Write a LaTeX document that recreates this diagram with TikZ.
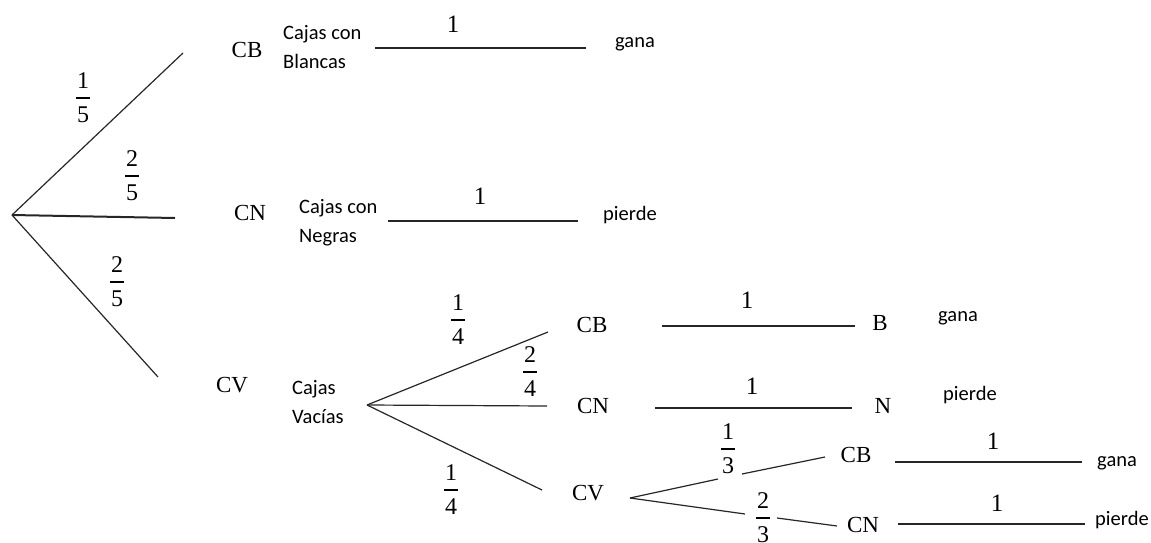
\documentclass[tikz,border=0pt]{standalone}
\usepackage{fontspec}
\setmainfont{Liberation Serif}
\newfontfamily\calfont{Carlito}
\usetikzlibrary{calc}
\newcommand\frc[4]{%
  \node[dig] (#1n) at ($(#2)+(0,-17)$) {#3};
  \node[dig] (#1d) at ($(#2)+(0,17)$) {#4};
  \draw[line width=1.2pt] ($(#2)+(-7,0)$) -- ($(#2)+(7,0)$);}
\begin{document}
\begin{tikzpicture}[x=1pt,y=-1pt,
  lab/.style={font=\fontsize{23}{25}\selectfont, inner sep=0pt},
  txt/.style={font=\calfont\fontsize{20.5}{29}\selectfont, inner sep=0pt, anchor=west, align=left},
  one/.style={font=\fontsize{25}{27}\selectfont, inner sep=0pt},
  dig/.style={font=\fontsize{24}{26}\selectfont, inner sep=0pt},
  br/.style={line width=1.2pt, draw=black!85},
]
\useasboundingbox (0,0) rectangle (1151,543);
% ---- level 1
\coordinate (root) at (12,215);
\coordinate (e1) at (183,53);
\coordinate (e2) at (175,218);
\coordinate (e3) at (158,377);
\draw[br] (root) -- (e1);
\draw[br, line width=2pt] (root) -- (e2);
\draw[br] (root) -- (e3);
\frc{f15}{83,98}{1}{5}
\frc{f25a}{132,176}{2}{5}
\frc{f25b}{117,282}{2}{5}
% ---- CB
\node[lab] (cb1) at (247,50) {CB};
\node[txt] (cb1t) at (283,47) {Cajas con\\Blancas};
\coordinate (l1a) at (375,48); \coordinate (l1b) at (586,48);
\draw[br] (l1a) -- (l1b);
\node[one] (o1) at (453,24) {1};
\node[txt] (g1) at (615,44) {gana};
% ---- CN
\node[lab] (cn1) at (250,213) {CN};
\node[txt] (cn1t) at (299,223) {Cajas con\\Negras};
\coordinate (l2a) at (388,221); \coordinate (l2b) at (578,221);
\draw[br] (l2a) -- (l2b);
\node[one] (o2) at (480,196) {1};
\node[txt] (p1) at (603,215) {pierde};
% ---- CV
\node[lab] (cv1) at (232,385) {CV};
\node[txt] (cv1t) at (292,402) {Cajas\\Vacías};
\coordinate (fork2) at (367,405);
\coordinate (m1) at (548,332);
\coordinate (m2) at (547,406);
\coordinate (m3) at (542,490);
\draw[br] (fork2) -- (m1);
\draw[br] (fork2) -- (m2);
\draw[br] (fork2) -- (m3);
\frc{f14a}{458,320}{1}{4}
\frc{f24}{530,372}{2}{4}
\frc{f14b}{451,490}{1}{4}
% ---- level 2
\node[lab] (cb2) at (592,325) {CB};
\coordinate (l3a) at (662,326); \coordinate (l3b) at (855,326);
\draw[br] (l3a) -- (l3b);
\node[one] (o3) at (747,300) {1};
\node[lab] (b2) at (880,323) {B};
\node[txt] (g2) at (938,318) {gana};
\node[lab] (cn2) at (593,406) {CN};
\coordinate (l4a) at (655,408); \coordinate (l4b) at (852,408);
\draw[br] (l4a) -- (l4b);
\node[one] (o4) at (752,386) {1};
\node[lab] (n2) at (883,406) {N};
\node[txt] (p2) at (943,395) {pierde};
\node[lab] (cv2) at (588,493) {CV};
% ---- level 3
\coordinate (fork3) at (630,498);
\coordinate (u1) at (718,479); \coordinate (u2) at (742,474); \coordinate (u3) at (825,457);
\coordinate (d1) at (745,514); \coordinate (d2) at (777,518); \coordinate (d3) at (837,526);
\draw[br] (fork3) -- (u1); \draw[br] (u2) -- (u3);
\draw[br] (fork3) -- (d1); \draw[br] (d2) -- (d3);
\frc{f13}{728,449}{1}{3}
\frc{f23}{763,518}{2}{3}
\node[lab] (cb3) at (856,455) {CB};
\coordinate (l5a) at (895,462); \coordinate (l5b) at (1082,462);
\draw[br] (l5a) -- (l5b);
\node[one] (o5) at (993,441) {1};
\node[txt] (g3) at (1097,463) {gana};
\node[lab] (cn3) at (863,525) {CN};
\coordinate (l6a) at (898,524); \coordinate (l6b) at (1085,524);
\draw[br] (l6a) -- (l6b);
\node[one] (o6) at (997,503) {1};
\node[txt] (p3) at (1095,520) {pierde};
\end{tikzpicture}
\end{document}
